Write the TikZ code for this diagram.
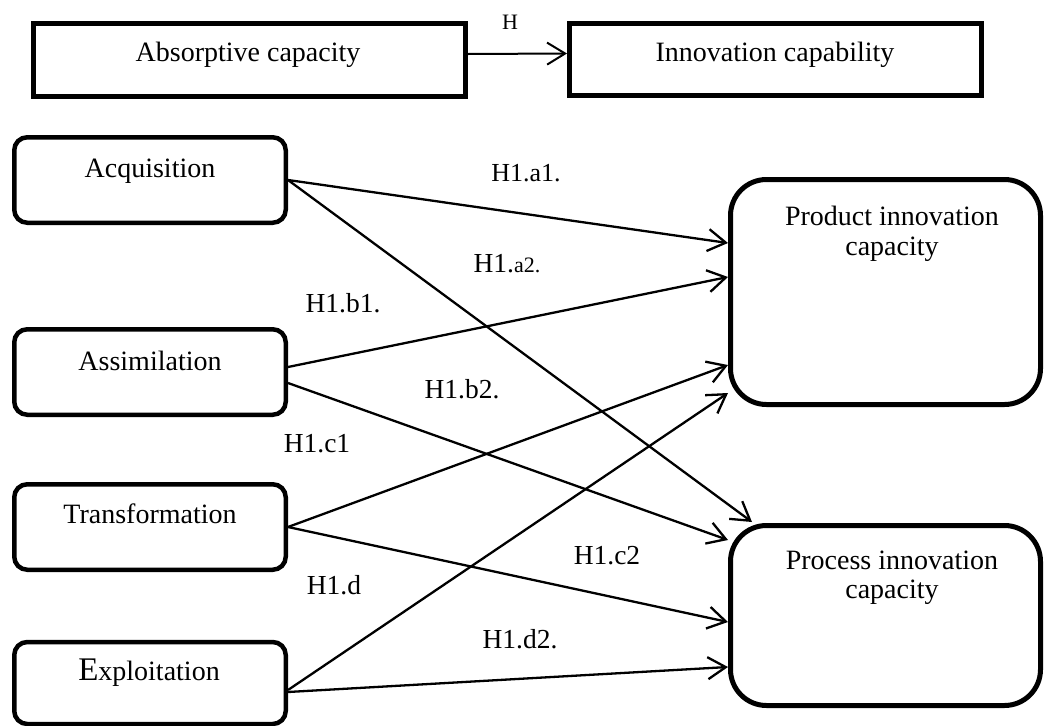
\documentclass[tikz,border=0pt]{standalone}
\usepackage{fontspec}
\setmainfont{Liberation Serif}
\usetikzlibrary{arrows.meta}
\begin{document}
\begin{tikzpicture}[x=1pt,y=-1pt,
  topbox/.style={draw, line width=5pt, rectangle, inner sep=0pt},
  leftbox/.style={draw, line width=4.5pt, rectangle, rounded corners=13pt, minimum width=271.5pt, minimum height=85.5pt, inner sep=0pt},
  rightbox/.style={draw, line width=5pt, rectangle, rounded corners=36pt, minimum width=310pt, inner sep=0pt},
  txt/.style={anchor=base, inner sep=0pt, font=\fontsize{28}{30}\selectfont, align=center},
  lab/.style={anchor=base, inner sep=0pt, font=\fontsize{27.5}{28}\selectfont},
  conn/.style={line width=2.3pt, -{Straight Barb[length=18pt,width=22pt]}}
]
\useasboundingbox (0,0) rectangle (1045,726);
% top row
\node[topbox, minimum width=432pt, minimum height=73pt] (abs) at (249.5,60) {};
\node[topbox, minimum width=412pt, minimum height=72pt] (inn) at (775.5,59.5) {};
\node[txt] (tabs) at (248,61) {Absorptive capacity};
\node[txt] (tinn) at (775,61) {Innovation capability};
\draw[line width=2pt, -{Straight Barb[length=18pt,width=22pt]}] ([yshift=6pt]abs.east) -- ([yshift=6pt]inn.west);
\node[lab, font=\fontsize{22}{24}\selectfont] (h) at (510,29) {H};
% left boxes
\node[leftbox] (acq) at (150,180) {};
\node[leftbox] (ass) at (150,372) {};
\node[leftbox] (tra) at (150,527) {};
\node[leftbox, minimum height=82pt] (exp) at (150,683) {};
\node[txt] (tacq) at (150,177) {Acquisition};
\node[txt] (tass) at (150,370) {Assimilation};
\node[txt] (ttra) at (150,523) {Transformation};
\node[txt] (texp) at (149,680) {{\fontsize{33}{33}\selectfont E}xploitation};
% right boxes
\node[rightbox, minimum height=225pt] (prod) at (885.5,292) {};
\node[rightbox, minimum height=180pt] (proc) at (885.5,615.5) {};
\node[txt] (tprod1) at (892,225) {Product innovation};
\node[txt] (tprod2) at (892,255) {capacity};
\node[txt] (tproc1) at (892,569) {Process innovation};
\node[txt] (tproc2) at (892,598) {capacity};
% connectors
\draw[conn] (acq.east) -- ([yshift=49pt]prod.west);
\draw[conn] (acq.east) -- ([xshift=24pt,yshift=1pt]proc.north west);
\draw[conn] ([yshift=5pt]ass.east) -- ([yshift=15pt]prod.west);
\draw[conn] ([yshift=-11pt]ass.east) -- ([yshift=75.5pt]proc.west);
\draw[conn] (tra.east) -- ([yshift=-73pt]prod.west);
\draw[conn] (tra.east) -- ([yshift=-6.5pt]proc.west);
\draw[conn] ([yshift=-7pt]exp.east) -- ([yshift=-101pt]prod.west);
\draw[conn] ([yshift=-9pt]exp.east) -- ([yshift=-51.5pt]proc.west);
% labels
\node[lab, font=\fontsize{26}{28}\selectfont] (la1) at (526,181) {H1.a1.};
\node[lab] (la2) at (507,272) {H1.{\fontsize{22}{24}\selectfont a2.}};
\node[lab] (lb1) at (343,312) {H1.b1.};
\node[lab] (lb2) at (462,398) {H1.b2.};
\node[lab] (lc1) at (317,452) {H1.c1};
\node[lab] (lc2) at (607,564) {H1.c2};
\node[lab] (ld) at (334,594) {H1.d};
\node[lab] (ld2) at (520,648) {H1.d2.};
\end{tikzpicture}
\end{document}
